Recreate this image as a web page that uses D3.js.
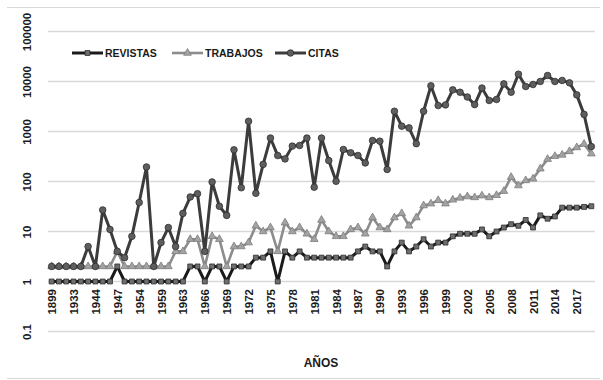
<!DOCTYPE html>
<html>
<head>
<meta charset="utf-8">
<script src="https://cdn.jsdelivr.net/npm/d3@7"></script>
<style>
  body { margin: 0; background: #fff; }
  text { font-family: "Liberation Sans", Arial, sans-serif; font-weight: bold; fill: #1a1a1a; }
</style>
</head>
<body>
<svg id="chart"></svg>
<script>
// categories (x axis)
const years = [1899, 1920, 1929, 1933, 1937, 1942, 1944, 1945, 1946, 1947, 1950, 1952, 1954, 1956, 1958, 1959, 1960, 1961,
  1963, 1964, 1965, 1966, 1967, 1968, 1969, 1970, 1971, 1972, 1973, 1974, 1975, 1976, 1977, 1978, 1979, 1980,
  1981, 1982, 1983, 1984, 1985, 1986, 1987, 1988, 1989, 1990, 1991, 1992, 1993, 1994, 1995, 1996, 1997, 1998,
  1999, 2000, 2001, 2002, 2003, 2004, 2005, 2006, 2007, 2008, 2009, 2010, 2011, 2012, 2013, 2014, 2015, 2016,
  2017, 2018, 2019];

const revistas = [1, 1, 1, 1, 1, 1, 1, 1, 1, 2, 1, 1, 1, 1, 1, 1, 1, 1,
  1, 2, 2, 1, 2, 2, 1, 2, 2, 2, 3, 3, 4, 1, 4, 3, 4, 3, 3, 3, 3, 3, 3, 3, 4, 5, 4, 4, 2, 4,
  6, 4, 5, 7, 5, 6, 6, 8, 9, 9, 9, 11, 8, 10, 12, 14, 13, 17, 12, 21, 18, 20, 30, 30, 30, 31, 32];

const trabajos = [2, 2, 2, 2, 2, 2, 2, 2, 2, 4, 2, 2, 2, 2, 2, 2, 2, 4,
  4, 7, 7, 2, 8, 7, 2, 5, 5, 6, 13, 10, 12, 4, 15, 10, 12, 9, 7, 17, 10, 8, 8, 11, 12, 9, 19, 12, 11, 19,
  23, 13, 19, 33, 36, 42, 36, 43, 47, 50, 48, 52, 48, 53, 64, 122, 83, 105, 113, 180, 280, 320, 340, 400, 480, 560, 360];

const citas = [2, 2, 2, 2, 2, 5, 2, 27, 11, 4, 3, 8, 38, 195, 2, 6, 12, 5,
  23, 49, 57, 4, 98, 32, 21, 430, 75, 1600, 58, 220, 740, 330, 283, 510, 525, 740, 77, 740, 262, 101,
  437, 375, 331, 235, 660, 640, 174, 2540, 1280, 1180, 570, 2540, 8200, 3300, 3400, 6800, 6100, 4900, 3450, 7400,
  4170, 4370, 8950, 6100, 14000, 7940, 8700, 10000, 13200, 10000, 10500, 9400, 5400, 2200, 500];

const yTicks = [0.1, 1, 10, 100, 1000, 10000, 100000];
const seriesNames = ["REVISTAS", "TRABAJOS", "CITAS"];

const w = 603, h = 380;
const svg = d3.select("#chart").attr("width", w).attr("height", h);

// outer frame lines
svg.append("line").attr("x1", 7).attr("x2", 600).attr("y1", 7.5).attr("y2", 7.5).attr("stroke", "#d9d9d9");
svg.append("line").attr("x1", 7).attr("x2", 600).attr("y1", 378.5).attr("y2", 378.5).attr("stroke", "#d9d9d9");

const x = d3.scalePoint().domain(years).range([48, 595]).padding(0.5);
const y = d3.scaleLog().domain([0.1, 100000]).range([331.5, 31.5]);

// gridlines
svg.append("g").selectAll("line")
  .data(yTicks)
  .enter().append("line")
  .attr("x1", 48).attr("x2", 595)
  .attr("y1", d => y(d)).attr("y2", d => y(d))
  .attr("stroke", "#d9d9d9").attr("stroke-width", 1.3);

// y axis labels
const yAxis = svg.append("g")
  .attr("transform", "translate(48,0)")
  .call(d3.axisLeft(y).tickValues(yTicks).tickSize(0).tickFormat(d => d3.format("")(d)));
yAxis.select(".domain").remove();
yAxis.selectAll("text")
  .attr("x", 0).attr("y", 0).attr("dy", "0.35em")
  .attr("transform", "translate(-21,0) rotate(-90)")
  .style("text-anchor", "middle")
  .style("font-size", "11.5px")
  .style("font-family", "'Liberation Sans', Arial, sans-serif")
  .style("font-weight", "bold")
  .attr("fill", "#1a1a1a");

// x axis labels (every third category)
const xAxis = svg.append("g")
  .attr("transform", "translate(0,289)")
  .call(d3.axisBottom(x).tickValues(years.filter((d, i) => i % 3 == 0)).tickSize(0));
xAxis.select(".domain").remove();
xAxis.selectAll("text")
  .attr("y", 0).attr("x", 0).attr("dy", "0.35em")
  .attr("transform", "rotate(-90)")
  .style("text-anchor", "end")
  .style("font-size", "11.5px")
  .style("font-family", "'Liberation Sans', Arial, sans-serif")
  .style("font-weight", "bold")
  .attr("fill", "#1a1a1a");

svg.append("text")
  .attr("x", 321).attr("y", 367)
  .attr("text-anchor", "middle")
  .style("font-size", "12px")
  .text("AÑOS");

// series
const styles = [
  { data: revistas, line: "#1a1a1a", width: 3, fill: "#6e6e6e", stroke: "#2b2b2b", sym: d3.symbolSquare, size: 24 },
  { data: trabajos, line: "#8c8c8c", width: 2.6, fill: "#a3a3a3", stroke: "#7c7c7c", sym: d3.symbolTriangle, size: 26 },
  { data: citas, line: "#3c3c3c", width: 3, fill: "#5e5e5e", stroke: "#2e2e2e", sym: d3.symbolCircle, size: 34 }
];

const line = d3.line()
  .x((d, i) => x(years[i]))
  .y(d => y(d));

styles.forEach(function(s) {
  svg.append("path")
    .datum(s.data)
    .attr("fill", "none")
    .attr("stroke", s.line)
    .attr("stroke-width", s.width)
    .attr("stroke-linejoin", "round")
    .attr("d", line);

  svg.append("g").selectAll("path")
    .data(s.data)
    .enter().append("path")
    .attr("d", d3.symbol().type(s.sym).size(s.size))
    .attr("transform", (d, i) => "translate(" + x(years[i]) + "," + y(d) + ")")
    .attr("fill", s.fill)
    .attr("stroke", s.stroke)
    .attr("stroke-width", 0.8);
});

// legend
const legendX = [72, 172, 275];
const legend = svg.append("g");
styles.forEach(function(s, i) {
  let lx = legendX[i];
  legend.append("line")
    .attr("x1", lx).attr("x2", lx + 31)
    .attr("y1", 53).attr("y2", 53)
    .attr("stroke", s.line).attr("stroke-width", s.width);
  legend.append("path")
    .attr("d", d3.symbol().type(s.sym).size(s.size))
    .attr("transform", "translate(" + (lx + 15.5) + ",53)")
    .attr("fill", s.fill).attr("stroke", s.stroke).attr("stroke-width", 0.8);
  legend.append("text")
    .attr("x", lx + 33).attr("y", 57)
    .style("font-size", "10.5px")
    .text(seriesNames[i]);
});
</script>
</body>
</html>
